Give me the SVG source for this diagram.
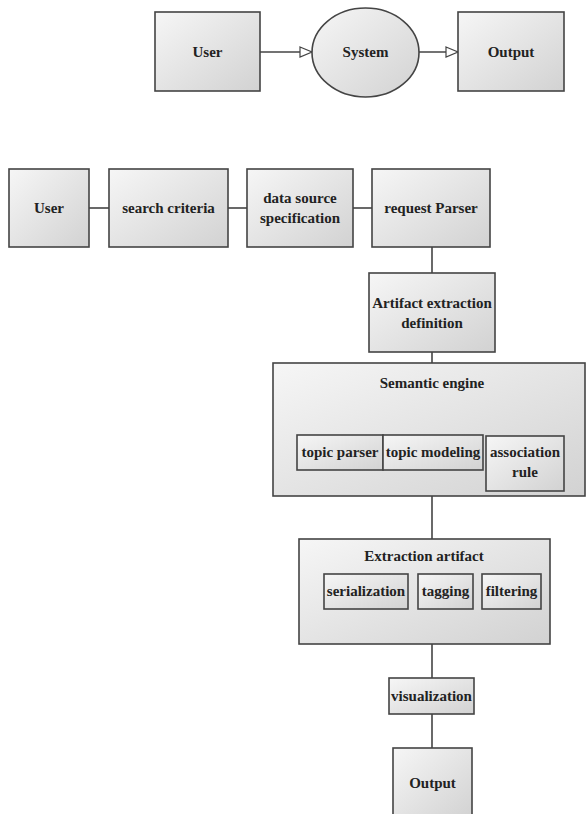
<svg xmlns="http://www.w3.org/2000/svg" width="586" height="814" viewBox="0 0 586 814">
<defs>
<linearGradient id="g" x1="0" y1="0" x2="1" y2="1">
<stop offset="0" stop-color="#f6f6f6"/>
<stop offset="1" stop-color="#d2d2d2"/>
</linearGradient>
<marker id="tri" viewBox="0 0 14 12" refX="13" refY="6" markerWidth="14" markerHeight="12" markerUnits="userSpaceOnUse" orient="auto">
<path d="M1,1 L13,6 L1,11 Z" fill="#fff" stroke="#444" stroke-width="1.2"/>
</marker>
</defs>
<style>
.b{fill:url(#g);stroke:#444;stroke-width:1.6}
.t{font-family:"Liberation Serif","Times New Roman",serif;font-weight:bold;font-size:15px;fill:#222;text-anchor:middle}
.c{stroke:#444;stroke-width:1.6;fill:none}
</style>
<rect width="586" height="814" fill="#fff"/>
<g id="connectors">
<line class="c" x1="260" y1="52" x2="312" y2="52" marker-end="url(#tri)"/>
<line class="c" x1="419" y1="52" x2="458" y2="52" marker-end="url(#tri)"/>
<line class="c" x1="89" y1="208" x2="109" y2="208"/>
<line class="c" x1="228" y1="208" x2="247" y2="208"/>
<line class="c" x1="353" y1="208" x2="372" y2="208"/>
<line class="c" x1="432" y1="247" x2="432" y2="273"/>
<line class="c" x1="432" y1="352" x2="432" y2="363"/>
<line class="c" x1="432" y1="496" x2="432" y2="539"/>
<line class="c" x1="432" y1="644" x2="432" y2="678"/>
<line class="c" x1="432" y1="714" x2="432" y2="748"/>
</g>
<g id="user_top"><rect class="b" x="155" y="12" width="105" height="79"/><text class="t" x="207.5" y="57">User</text></g>
<g id="system"><ellipse class="b" cx="365.5" cy="52.5" rx="53.5" ry="44.5"/><text class="t" x="365.5" y="57">System</text></g>
<g id="output_top"><rect class="b" x="458" y="12" width="106" height="79"/><text class="t" x="511" y="57">Output</text></g>
<g id="user"><rect class="b" x="9" y="169" width="80" height="78"/><text class="t" x="49" y="213">User</text></g>
<g id="search_criteria"><rect class="b" x="109" y="169" width="119" height="78"/><text class="t" x="168.5" y="213">search criteria</text></g>
<g id="data_source"><rect class="b" x="247" y="169" width="106" height="78"/><text class="t" x="300" y="203">data source</text><text class="t" x="300" y="223">specification</text></g>
<g id="request_parser"><rect class="b" x="372" y="169" width="118" height="78"/><text class="t" x="431" y="213">request Parser</text></g>
<g id="artifact_def"><rect class="b" x="369" y="273" width="126" height="79"/><text class="t" x="432" y="308">Artifact extraction</text><text class="t" x="432" y="328">definition</text></g>
<g id="semantic_engine"><rect class="b" x="273" y="363" width="312" height="133"/><text class="t" x="432" y="388">Semantic engine</text>
<g id="topic_parser"><rect class="b" x="297" y="435" width="86" height="35"/><text class="t" x="340" y="457">topic parser</text></g>
<g id="topic_modeling"><rect class="b" x="383" y="435" width="100" height="35"/><text class="t" x="433" y="457">topic modeling</text></g>
<g id="association_rule"><rect class="b" x="486" y="436" width="78" height="55"/><text class="t" x="525" y="457">association</text><text class="t" x="525" y="477">rule</text></g>
</g>
<g id="extraction_artifact"><rect class="b" x="299" y="539" width="251" height="105"/><text class="t" x="424" y="561">Extraction artifact</text>
<g id="serialization"><rect class="b" x="324" y="574" width="84" height="35"/><text class="t" x="366" y="596">serialization</text></g>
<g id="tagging"><rect class="b" x="418" y="574" width="55" height="35"/><text class="t" x="445.5" y="596">tagging</text></g>
<g id="filtering"><rect class="b" x="482" y="574" width="59" height="35"/><text class="t" x="511.5" y="596">filtering</text></g>
</g>
<g id="visualization"><rect class="b" x="389" y="678" width="85" height="36"/><text class="t" x="431.5" y="701">visualization</text></g>
<g id="output"><rect class="b" x="393" y="748" width="79" height="70"/><text class="t" x="432.5" y="788">Output</text></g>
</svg>
